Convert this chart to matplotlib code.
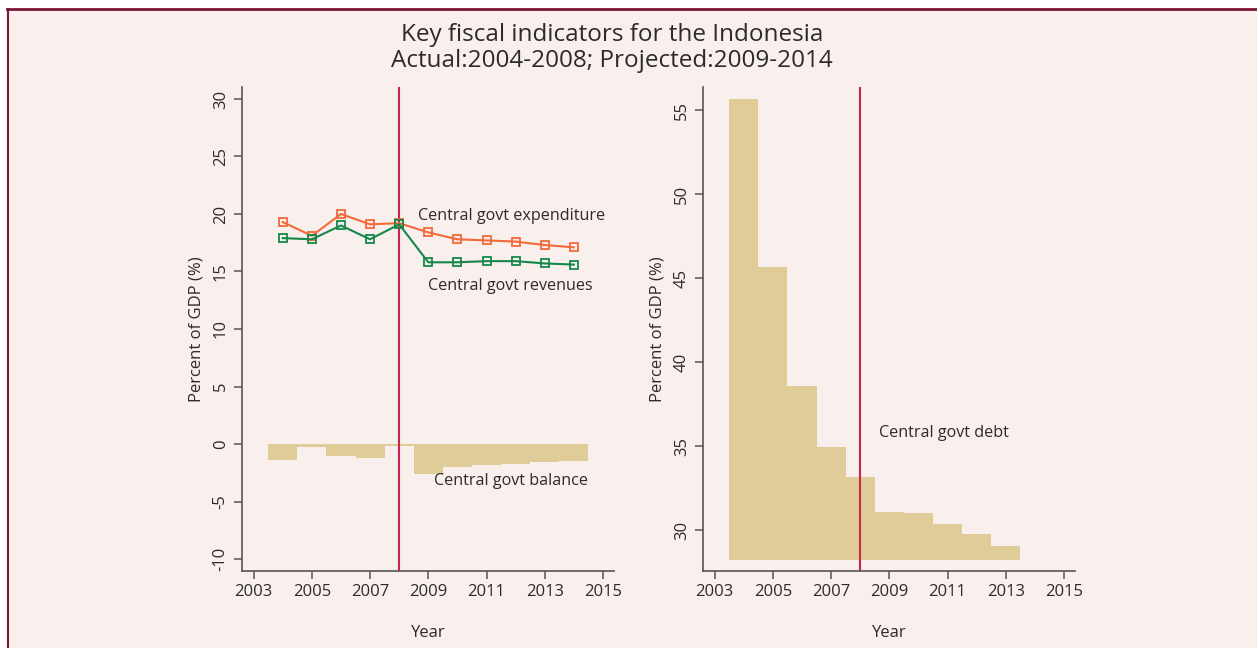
import matplotlib
matplotlib.use('Agg')
import matplotlib.pyplot as plt
from matplotlib.patches import Rectangle
from matplotlib.lines import Line2D

plt.rcParams['font.family'] = ['Open Sans', 'DejaVu Sans']
plt.rcParams['axes.unicode_minus'] = False

years = [2004, 2005, 2006, 2007, 2008, 2009, 2010, 2011, 2012, 2013, 2014]
expenditure = [19.3, 18.1, 20.0, 19.1, 19.2, 18.4, 17.8, 17.7, 17.6, 17.3, 17.1]
revenues = [17.9, 17.8, 19.0, 17.8, 19.1, 15.8, 15.8, 15.9, 15.9, 15.7, 15.6]
balance = [-1.4, -0.3, -1.0, -1.2, -0.15, -2.6, -2.0, -1.8, -1.7, -1.55, -1.45]

debt_years = [2004, 2005, 2006, 2007, 2008, 2009, 2010, 2011, 2012, 2013]
debt = [55.65, 45.65, 38.6, 34.95, 33.15, 31.1, 31.0, 30.35, 29.75, 29.05]
debt_base = 28.2

xticks = [2003, 2005, 2007, 2009, 2011, 2013, 2015]

bg = '#f9efed'
bar_col = '#e0cc98'
line_red = '#c8264a'
spine_col = '#555555'
text_col = '#2b2b2b'

fig = plt.figure(figsize=(12.57, 6.48), dpi=100)
fig.patch.set_facecolor('white')
# panel background and border (behind the axes)
fig.patches.append(Rectangle((7/1257, 0), 1 - 7/1257, 1 - 9/648, transform=fig.transFigure,
                             facecolor=bg, edgecolor='none', zorder=-5))
fig.lines.append(Line2D([7/1257, 1], [1 - 8.5/648, 1 - 8.5/648], transform=fig.transFigure,
                        color='#7a1535', lw=2, zorder=-4))
fig.lines.append(Line2D([7.5/1257, 7.5/1257], [0, 1 - 8.5/648], transform=fig.transFigure,
                        color='#7a1535', lw=1.5, zorder=-4))

fig.text(0.487, 1 - 35/648, 'Key fiscal indicators for the Indonesia', ha='center', va='center',
         fontsize=17.5, color=text_col)
fig.text(0.487, 1 - 61/648, 'Actual:2004-2008; Projected:2009-2014', ha='center', va='center',
         fontsize=17.5, color=text_col)


def style(ax):
    ax.set_facecolor('none')
    for s in ['top', 'right']:
        ax.spines[s].set_visible(False)
    for s in ['left', 'bottom']:
        ax.spines[s].set_color(spine_col)
        ax.spines[s].set_linewidth(1.2)
    ax.tick_params(colors=spine_col, labelcolor=text_col, length=6, width=1.1, labelsize=12)
    ax.set_xlim(2002.6, 2015.38)
    ax.set_xticks(xticks)
    ax.set_xlabel('Year', fontsize=12, color=text_col, labelpad=18)
    ax.set_ylabel('Percent of GDP (%)', fontsize=12, color=text_col, labelpad=6)
    for lab in ax.get_yticklabels():
        lab.set_rotation(90)
        lab.set_va('center')


# left panel
ax1 = fig.add_axes([242/1257, 77/648, 372/1257, 484/648])
ax1.bar(years, balance, width=1.0, color=bar_col, edgecolor='none', zorder=1)
ax1.plot(years, expenditure, color='#f26a3a', lw=1.5, marker='s', markersize=6,
         markerfacecolor='none', markeredgewidth=1.3, zorder=4)
ax1.plot(years, revenues, color='#14884a', lw=1.5, marker='s', markersize=6,
         markerfacecolor='none', markeredgewidth=1.3, zorder=4)
ax1.axvline(2008, color=line_red, lw=1.5, zorder=3)
ax1.set_ylim(-11.04, 31.04)
ax1.set_yticks([-10, -5, 0, 5, 10, 15, 20, 25, 30])
style(ax1)
ax1.text(2008.64, 19.8, 'Central govt expenditure', fontsize=11.6, color=text_col, va='center')
ax1.text(2008.98, 13.7, 'Central govt revenues', fontsize=11.6, color=text_col, va='center')
ax1.text(2009.19, -3.2, 'Central govt balance', fontsize=11.6, color=text_col, va='center')

# right panel
ax2 = fig.add_axes([703/1257, 77/648, 372/1257, 484/648])
ax2.bar(debt_years, [d - debt_base for d in debt], bottom=debt_base, width=1.0,
        color=bar_col, edgecolor='none', zorder=1)
ax2.axvline(2008, color=line_red, lw=1.5, zorder=5)
ax2.set_ylim(27.56, 56.37)
ax2.set_yticks([30, 35, 40, 45, 50, 55])
style(ax2)
ax2.text(2008.64, 35.77, 'Central govt debt', fontsize=11.6, color=text_col, va='center')

fig.savefig('out.png', dpi=100, facecolor=fig.get_facecolor())
